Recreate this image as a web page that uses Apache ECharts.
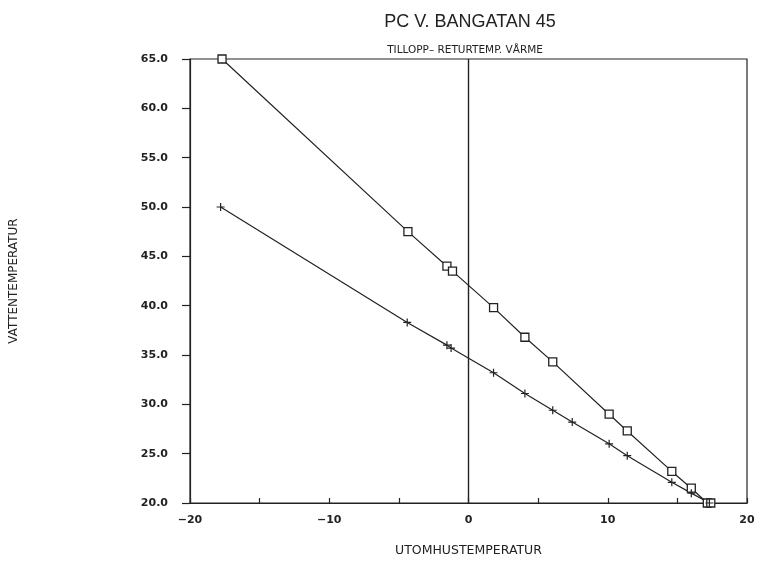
<!DOCTYPE html>
<html><head><meta charset="utf-8">
<script src="https://cdn.jsdelivr.net/npm/echarts@6/dist/echarts.min.js"></script>
<style>html,body{margin:0;padding:0;background:#fff}#c{width:763px;height:562px}</style>
</head><body><div id="c"></div>
<script>
const titleText = 'PC V. BANGATAN 45';
const subtitleText = 'TILLOPP\u2013 RETURTEMP. V\u00c5RME';
const xName = 'UTOMHUSTEMPERATUR';
const yName = 'VATTENTEMPERATUR';
const supplyX = [-17.7, -4.35, -1.55, -1.15, 1.8, 4.05, 6.05, 10.1, 11.4, 14.6, 16.0, 17.15, 17.4];
const supplyY = [65.0, 47.5, 44.0, 43.5, 39.8, 36.8, 34.3, 29.0, 27.3, 23.2, 21.5, 20.0, 20.0];
const returnX = [-17.8, -4.4, -1.55, -1.25, 1.8, 4.05, 6.05, 7.45, 10.1, 11.4, 14.6, 16.0, 17.3];
const returnY = [50.0, 38.3, 36.0, 35.7, 33.2, 31.1, 29.4, 28.2, 26.0, 24.8, 22.1, 21.0, 20.0];
const xMin = -20, xMax = 20, xStep = 5;
const yMin = 20, yMax = 65, yStep = 5;

const pair = (xs, ys) => xs.map((x, i) => [x, ys[i]]);
const ink = '#222';
const chart = echarts.init(document.getElementById('c'));
chart.setOption({
  animation: false,
  backgroundColor: '#fff',
  title: [
    {text: titleText, left: 465, top: 8, textAlign: 'center',
     textStyle: {fontFamily: 'Liberation Sans', fontSize: 18, fontWeight: 'normal', color: ink}},
    {text: subtitleText, left: 460, top: 40, textAlign: 'center',
     textStyle: {fontFamily: 'DejaVu Sans', fontSize: 10.5, fontWeight: 'normal', color: ink}}
  ],
  grid: {left: 190, right: 16, top: 59, bottom: 58, show: true, borderColor: ink, borderWidth: 1.2, backgroundColor: 'transparent'},
  xAxis: {
    type: 'value', min: xMin, max: xMax, interval: xStep,
    name: xName, nameLocation: 'middle', nameGap: 41,
    nameTextStyle: {fontFamily: 'DejaVu Sans', fontSize: 12.5, color: ink},
    axisLine: {onZero: false, lineStyle: {color: ink, width: 1.2}},
    axisTick: {inside: true, length: 5, lineStyle: {color: ink, width: 1.2}},
    axisLabel: {
      margin: 12, fontFamily: 'DejaVu Sans', fontSize: 11, fontWeight: 'bold', color: ink,
      formatter: v => (v % 10 === 0 ? String(v).replace('-', '\u2212') : '')
    },
    splitLine: {show: false}
  },
  yAxis: {
    type: 'value', min: yMin, max: yMax, interval: yStep,
    name: yName, nameLocation: 'middle', nameGap: 170, nameRotate: 90,
    nameTextStyle: {fontFamily: 'DejaVu Sans', fontSize: 12, color: ink},
    axisLine: {onZero: false, lineStyle: {color: ink, width: 1.2}},
    axisTick: {length: 8, lineStyle: {color: ink, width: 1.2}},
    axisLabel: {margin: 22, fontFamily: 'DejaVu Sans', fontSize: 11, fontWeight: 'bold', color: ink,
      formatter: v => v.toFixed(1)},
    splitLine: {show: false}
  },
  series: [
    {
      type: 'line', data: pair(supplyX, supplyY),
      symbol: 'rect', symbolSize: 8,
      lineStyle: {color: ink, width: 1.2},
      itemStyle: {color: '#fff', borderColor: ink, borderWidth: 1.3},
      markLine: {silent: true, symbol: 'none', label: {show: false},
        lineStyle: {color: ink, width: 1.4, type: 'solid'}, data: [{xAxis: 0}]},
      z: 3
    },
    {
      type: 'line', data: pair(returnX, returnY),
      symbol: 'path://M0,5L10,5M5,0L5,10', symbolSize: 8,
      lineStyle: {color: ink, width: 1.2},
      itemStyle: {color: 'none', borderColor: ink, borderWidth: 1.2},
      z: 3
    }
  ]
});
</script></body></html>
